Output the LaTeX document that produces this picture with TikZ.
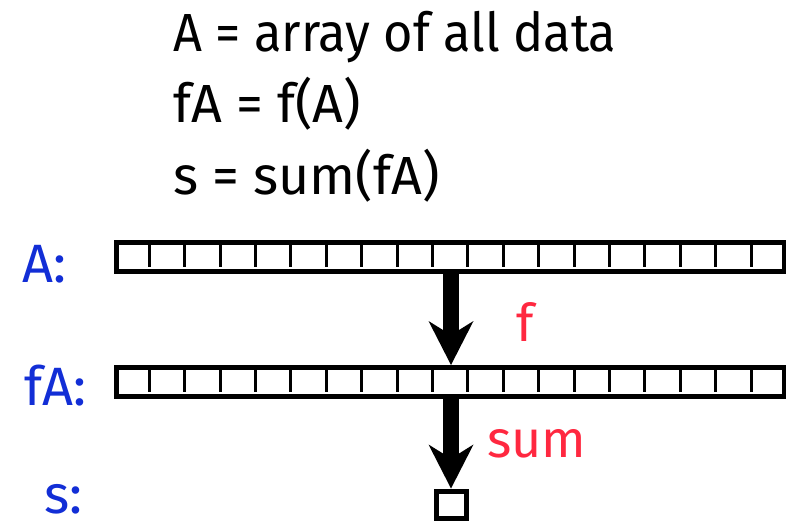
\documentclass[tikz,border=0pt]{standalone}
\usepackage{fontspec}
\setmainfont{Fira Sans}
\usetikzlibrary{arrows.meta,calc}
\definecolor{lblblue}{RGB}{18,46,214}
\definecolor{lblred}{RGB}{255,40,64}
\tikzset{
  arr/.style={draw=black, line width=5pt, minimum width=667.5pt, minimum height=29pt, inner sep=0pt, fill=white},
  divider/.style={line width=3pt},
  bigarrow/.style={line width=16pt, -{Stealth[length=44pt, width=45pt, inset=14pt, line width=0pt]}},
  codetext/.style={anchor=base west, inner sep=0pt, font=\fontsize{53.7}{60}\selectfont},
  bluelbl/.style={anchor=base west, inner sep=0pt, text=lblblue, font=\fontsize{54}{60}\selectfont},
  redlbl/.style={anchor=base west, inner sep=0pt, text=lblred, font=\fontsize{52}{60}\selectfont},
  sbox/.style={draw=black, line width=5pt, minimum width=30pt, minimum height=27pt, inner sep=0pt}
}
\begin{document}
\begin{tikzpicture}[x=1pt, y=-1pt]
\useasboundingbox (0,0) rectangle (786,521);
% top text
\node[codetext] (t1) at (173,52) {\scalebox{0.94}[1]{A = array of all data}};
\node[codetext] (t2) at (173,123) {fA = f(A)};
\node[codetext] (t3) at (173,195) {s = sum(fA)};
% arrays
\node[arr] (arrA) at (450.25,257) {};
\node[arr] (arrF) at (450.25,382) {};
\foreach \k in {1,...,18} {
  \draw[divider] ($(arrA.north west)!\k/19!(arrA.north east)$) ++(0,2.5) -- ++(0,24);
  \draw[divider] ($(arrF.north west)!\k/19!(arrF.north east)$) ++(0,2.5) -- ++(0,24);
}
% labels
\node[bluelbl] (lA) at (22,282) {A:};
\node[bluelbl] (lF) at (24,405) {fA:};
\node[bluelbl] (lS) at (44,513) {s:};
% result box
\node[sbox] (s) at (451.5,504.5) {};
\coordinate (mid) at (451,0);
\draw[bigarrow] (arrA.south -| mid) -- (arrF.north -| mid);
\draw[bigarrow] (arrF.south -| mid) -- (s.north -| mid);
\node[redlbl] (lf) at (516,341) {f};
\node[redlbl] (lsum) at (487,457) {sum};
\end{tikzpicture}
\end{document}
